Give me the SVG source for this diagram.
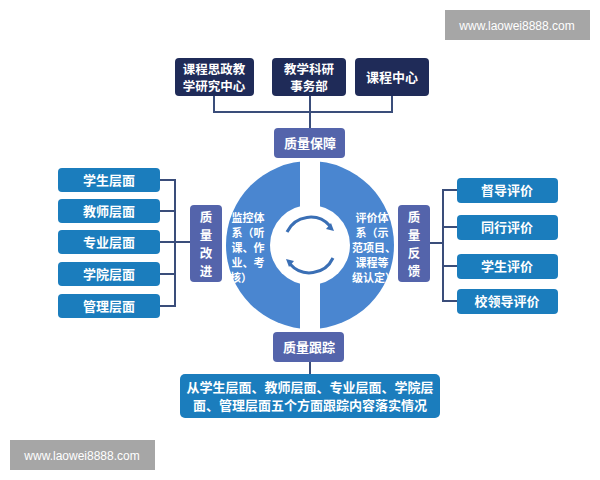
<svg xmlns="http://www.w3.org/2000/svg" width="600" height="480" viewBox="0 0 600 480">
<style>
text{font-family:"Noto Sans CJK SC","Liberation Sans",sans-serif;font-weight:bold;fill:#fff;text-anchor:middle}
.dk{fill:#1f2b58}.md{fill:#5464ab}.bl{fill:#1b7dbd}
.ln{stroke:#3a4d7a;stroke-width:2;fill:none}
.wm{font-family:"Liberation Sans",sans-serif;font-weight:normal;font-size:12px}
</style>
<rect width="600" height="480" fill="#fff"/>
<rect x="445" y="10" width="145" height="30" fill="#a6a6a6"/>
<text class="wm" x="517" y="30">www.laowei8888.com</text>
<rect x="10" y="440" width="145" height="30" fill="#a6a6a6"/>
<text class="wm" x="82" y="460">www.laowei8888.com</text>
<g id="connectors" class="ln">
<path d="M214 96V112H392V96M310 96V128"/>
<path d="M160 180H175V306H160M160 211H175M160 242H190M160 274H175"/>
<path d="M457 190H443V301H457M457 227H443M457 266H443M430 243H443"/>
<path d="M310 362V374"/>
</g>
<g id="circle">
<circle cx="310" cy="245" r="84" fill="#4a86d0"/>
<rect x="300" y="160" width="20" height="170" fill="#fff"/>
<circle cx="310" cy="245" r="40" fill="#fff"/>
<path d="M287 232A26 26 0 0 1 330 226" stroke="#3a6fb5" stroke-width="3" fill="none"/>
<path d="M331 223l3 8l-8 -2z" fill="#3a6fb5"/>
<path d="M333 258A26 26 0 0 1 290 264" stroke="#3a6fb5" stroke-width="3" fill="none"/>
<path d="M289 267l-3 -8l8 2z" fill="#3a6fb5"/>
<g font-size="11">
<text x="248" y="222">监控体</text><text x="248" y="237">系（听</text><text x="248" y="252">课、作</text><text x="248" y="267">业、考</text><text x="241" y="282">核）</text>
<text x="372" y="222">评价体</text><text x="372" y="237">系（示</text><text x="374" y="252">范项目、</text><text x="372" y="267">课程等</text><text x="374" y="282">级认定）</text>
</g>
</g>
<g id="n1"><rect class="dk" x="175" y="58" width="79" height="38" rx="4"/><text font-size="12.5" x="214" y="74">课程思政教</text><text font-size="12.5" x="214" y="91">学研究中心</text></g>
<g id="n2"><rect class="dk" x="272" y="58" width="74" height="38" rx="4"/><text font-size="12.5" x="309" y="74">教学科研</text><text font-size="12.5" x="309" y="91">事务部</text></g>
<g id="n3"><rect class="dk" x="355" y="58" width="74" height="38" rx="4"/><text font-size="13" x="392" y="82">课程中心</text></g>
<g id="qa"><rect class="md" x="274" y="128" width="71" height="30" rx="4"/><text font-size="13" x="310" y="148">质量保障</text></g>
<g id="qt"><rect class="md" x="273" y="332" width="71" height="30" rx="4"/><text font-size="13" x="309" y="352">质量跟踪</text></g>
<g id="qi"><rect class="md" x="190" y="205" width="32" height="77" rx="4"/><g font-size="12.5"><text x="206" y="222">质</text><text x="206" y="240">量</text><text x="206" y="258">改</text><text x="206" y="276">进</text></g></g>
<g id="qf"><rect class="md" x="398" y="205" width="32" height="77" rx="4"/><g font-size="12.5"><text x="414" y="222">质</text><text x="414" y="240">量</text><text x="414" y="258">反</text><text x="414" y="276">馈</text></g></g>
<g id="l1"><rect class="bl" x="58" y="168" width="102" height="24" rx="4"/><text font-size="13" x="109" y="185">学生层面</text></g>
<g id="l2"><rect class="bl" x="58" y="199" width="102" height="24" rx="4"/><text font-size="13" x="109" y="216">教师层面</text></g>
<g id="l3"><rect class="bl" x="58" y="230" width="102" height="24" rx="4"/><text font-size="13" x="109" y="247">专业层面</text></g>
<g id="l4"><rect class="bl" x="58" y="262" width="102" height="24" rx="4"/><text font-size="13" x="109" y="279">学院层面</text></g>
<g id="l5"><rect class="bl" x="58" y="294" width="102" height="24" rx="4"/><text font-size="13" x="109" y="311">管理层面</text></g>
<g id="r1"><rect class="bl" x="457" y="178" width="101" height="25" rx="4"/><text font-size="13" x="507" y="195">督导评价</text></g>
<g id="r2"><rect class="bl" x="457" y="215" width="101" height="25" rx="4"/><text font-size="13" x="507" y="232">同行评价</text></g>
<g id="r3"><rect class="bl" x="457" y="254" width="101" height="25" rx="4"/><text font-size="13" x="507" y="271">学生评价</text></g>
<g id="r4"><rect class="bl" x="457" y="289" width="101" height="25" rx="4"/><text font-size="13" x="507" y="306">校领导评价</text></g>
<g id="bottom"><rect class="bl" x="180" y="374" width="260" height="44" rx="5"/><text font-size="13" x="310" y="392">从学生层面、教师层面、专业层面、学院层</text><text font-size="13" x="310" y="410">面、管理层面五个方面跟踪内容落实情况</text></g>
</svg>
